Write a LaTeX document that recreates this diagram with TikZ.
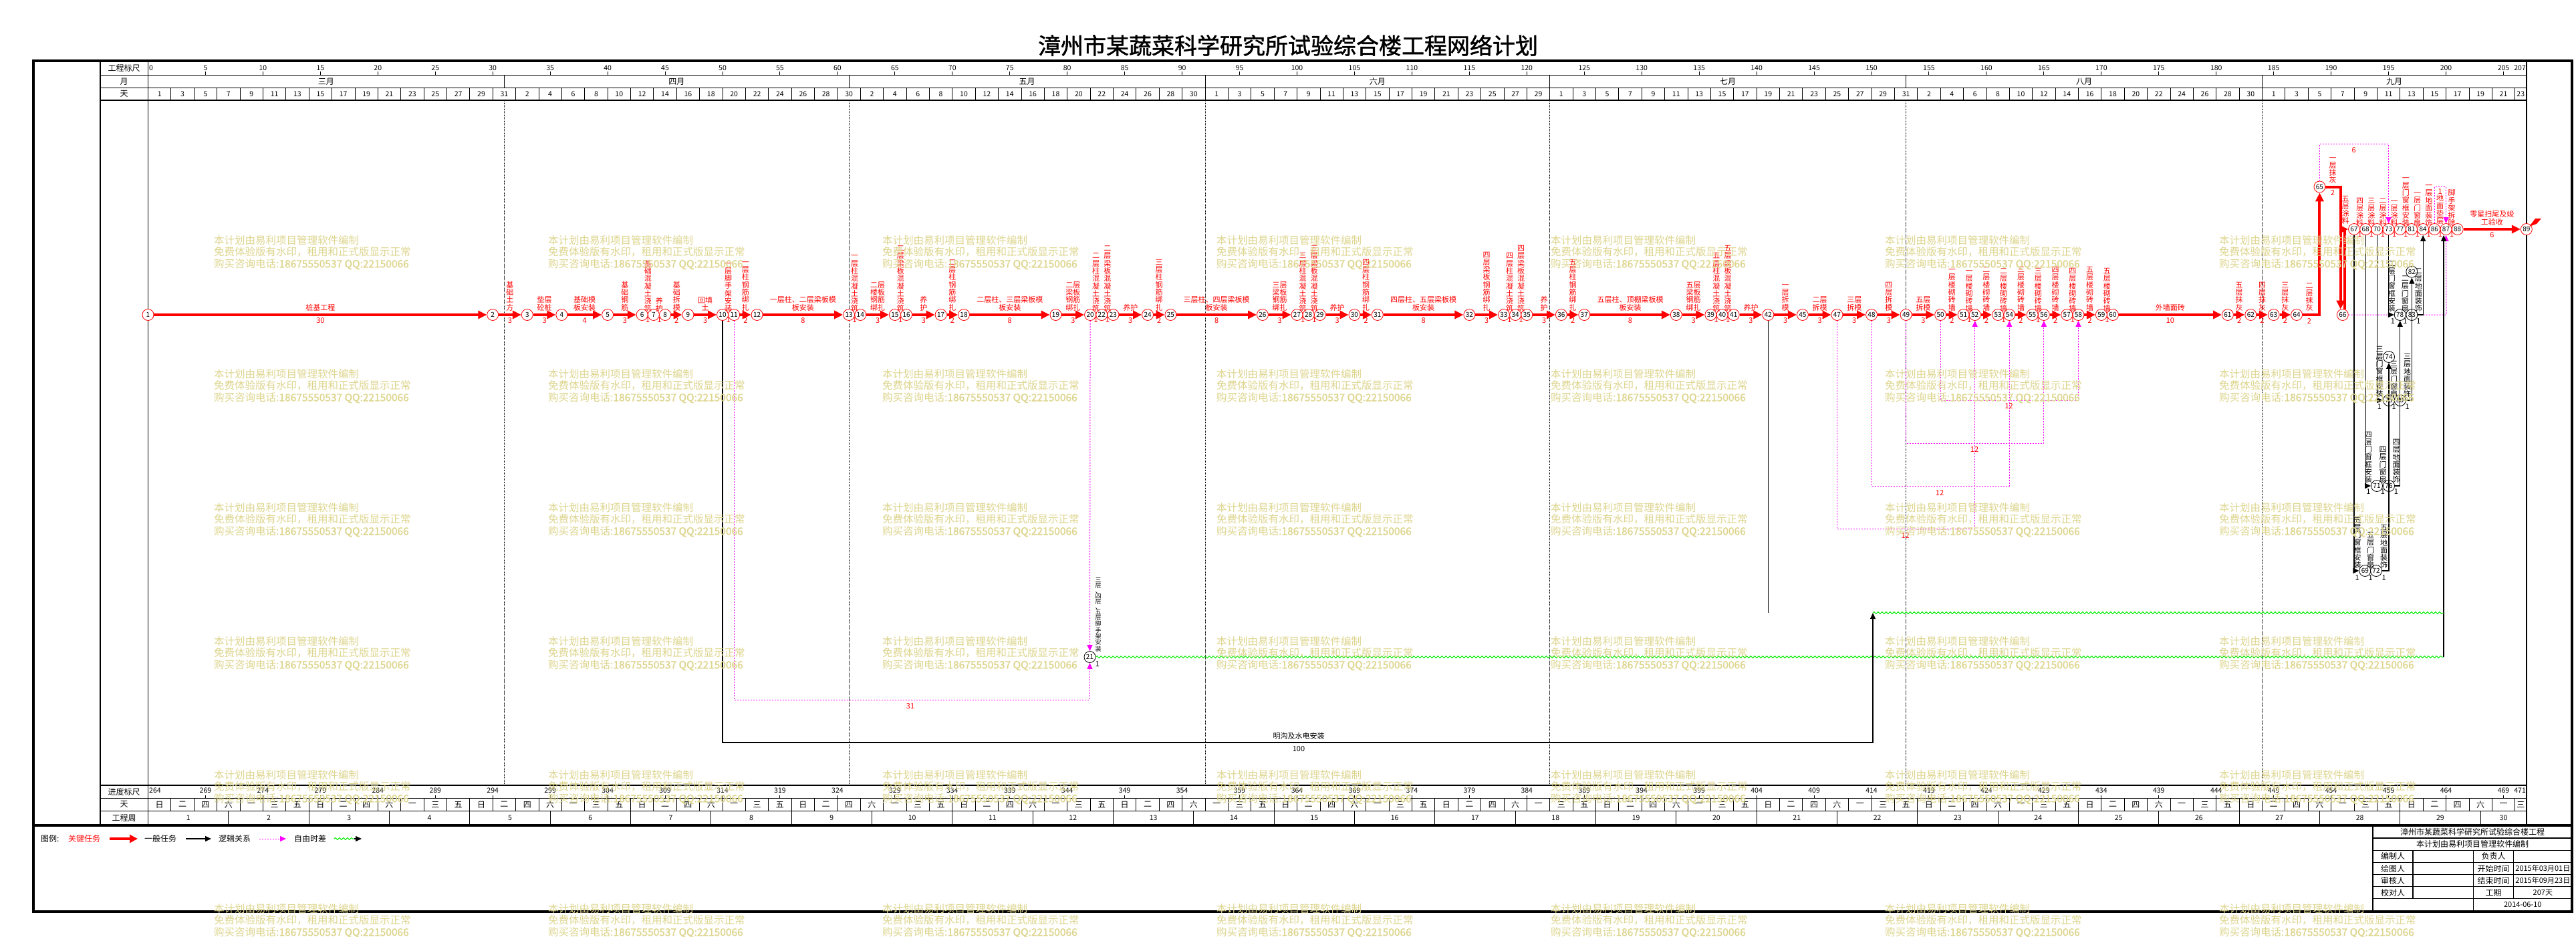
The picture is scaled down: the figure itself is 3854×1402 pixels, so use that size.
\documentclass[tikz,border=0pt]{standalone}
\usepackage{fontspec}
\setmainfont{Noto Sans CJK SC}
\newfontfamily\boldf[FakeBold=1.5]{Noto Sans CJK SC}
\usetikzlibrary{arrows.meta,decorations.pathmorphing,calc}
\pgfdeclarelayer{bg}
\pgfsetlayers{bg,main}
\definecolor{wm}{RGB}{221,213,141}
\definecolor{mag}{RGB}{255,0,255}
\definecolor{grn}{RGB}{0,235,0}
\newcommand\X[1]{(221.5+(#1)*17.19)}
\newcommand\vtEnd{VTEND}
\def\vtgob#1{}
\def\vtone#1{#1}
\newcommand\vt[1]{\vtA#1\vtEnd}
\def\vtA#1{\ifx#1\vtEnd\expandafter\vtgob\else\expandafter\vtone\fi{#1\vtB}}
\def\vtB#1{\ifx#1\vtEnd\expandafter\vtgob\else\expandafter\vtone\fi{\\#1\vtB}}
\tikzset{
  hdr/.style={font=\fontsize{12}{12}\selectfont,inner sep=0pt},
  num/.style={font=\fontsize{10.5}{10.5}\selectfont,inner sep=0pt},
  cn/.style={circle,draw=red,fill=white,line width=0.8pt,minimum size=17pt,inner sep=0pt,font=\fontsize{10}{10}\selectfont},
  gn/.style={circle,draw=black,fill=white,line width=0.8pt,minimum size=17pt,inner sep=0pt,font=\fontsize{10}{10}\selectfont},
  crit/.style={draw=red,line width=4pt,-{Triangle[length=13pt,width=12pt]}},
  gen/.style={draw=black,line width=1.2pt,-{Triangle[length=9pt,width=8pt]}},
  genl/.style={draw=black,line width=1.2pt},
  logic/.style={draw=mag,line width=1pt,dash pattern=on 2pt off 2pt,-{Triangle[length=9pt,width=8pt]}},
  ff/.style={draw=grn,line width=1pt,decorate,decoration={snake,amplitude=1.5pt,segment length=6pt}},
  lr/.style={text=red,inner sep=0pt,align=center,font=\fontsize{11}{11.3}\selectfont},
  lb/.style={text=black,inner sep=0pt,align=center,font=\fontsize{11}{11.3}\selectfont},
  wmk/.style={text=wm,inner sep=0pt,align=left,font=\fontsize{15.5}{17.5}\selectfont}
}
\newcommand\vtask[4]{\draw[crit] (n#1) -- (n#2) node[midway,above=4pt,lr]{\vt{#3}} node[midway,below=3pt,lr]{#4};}
\newcommand\vtaskn[4]{\path (n#1) -- (n#2) node[midway,above=4pt,lr]{\vt{#3}} node[midway,below=3pt,lr]{#4};}
\newcommand\htask[4]{\draw[crit] (n#1) -- (n#2) node[midway,above=4pt,lr]{#3} node[midway,below=3pt,lr]{#4};}
\newcommand\vlab[3]{\node[lb,anchor=south] at (#1,#2) {\vt{#3}};}
\begin{document}
\begin{tikzpicture}[x=1pt,y=-1pt]
\useasboundingbox (0,0) rectangle (3854,1402);
\begin{pgfonlayer}{bg}
\fill[white] (0,0) rectangle (3854,1402);
% frame
\draw[line width=4pt] (50,91) rectangle (3848,1364);
\draw[line width=4pt] (50,1235) -- (3848,1235);
\foreach \xx in {150,221.5,3780} \draw[line width=1.2pt] (\xx,91) -- (\xx,1235);
\foreach \yy in {112.3,131.3,150,1175,1194.3,1213.3} \draw[line width=1.2pt] (150,\yy) -- (3780,\yy);
% month lines
\foreach \m in {31,61,92,122,153,184} {
  \draw[line width=1pt] ({\X{\m}},112.3) -- ({\X{\m}},131.3);
  \draw[densely dotted,line width=0.8pt] ({\X{\m}},150) -- ({\X{\m}},1175);
}
\foreach \a/\b/\t in {0/31/三月,31/61/四月,61/92/五月,92/122/六月,122/153/七月,153/184/八月,184/207/九月}
  \node[hdr] at ({\X{(\a+\b)/2}},121.8) {\t};
% ruler top and bottom
\node[num,anchor=west] at (223,101.7) {0};
\node[num,anchor=west] at (223,1183) {264};
\foreach \k in {5,10,...,205} {
  \pgfmathtruncatemacro\v{264+\k}
  \draw[line width=1pt] ({\X{\k}},107.5) -- ({\X{\k}},112.3);
  \node[num] at ({\X{\k}},101.7) {\k};
  \draw[line width=1pt] ({\X{\k}},1189.5) -- ({\X{\k}},1194.3);
  \node[num] at ({\X{\k}},1183) {\v};
}
\node[num,anchor=east] at (3779,101.7) {207};
\node[num,anchor=east] at (3779,1183) {471};
% day cells
\foreach \i in {2,4,...,206} {
  \draw[line width=0.8pt] ({\X{\i}},131.3) -- ({\X{\i}},150);
  \draw[line width=0.8pt] ({\X{\i}},1194.3) -- ({\X{\i}},1213.3);
}
\foreach \i in {0,2,...,206} {
  \pgfmathtruncatemacro\dd{\i<31 ? \i+1 : (\i<61 ? \i-30 : (\i<92 ? \i-60 : (\i<122 ? \i-91 : (\i<153 ? \i-121 : (\i<184 ? \i-152 : \i-183)))))}
  \pgfmathsetmacro\cc{\i<206 ? \i+1 : 206.5}
  \pgfmathtruncatemacro\ww{mod(\i,7)}
  \node[num] at ({\X{\cc}},140.6) {\dd};
  \node[hdr] at ({\X{\cc}},1203.8) {\ifcase\ww 日\or 一\or 二\or 三\or 四\or 五\or 六\fi};
}
% weeks
\foreach \k in {7,14,...,203} \draw[line width=0.8pt] ({\X{\k}},1213.3) -- ({\X{\k}},1235);
\foreach \k in {1,...,30} {
  \pgfmathsetmacro\c{(7*(\k-1)+min(7*\k,207))/2}
  \node[num] at ({\X{\c}},1224) {\k};
}
% first column labels
\node[hdr] at (185.7,101.7) {工程标尺};
\node[hdr] at (185.7,121.8) {月};
\node[hdr] at (185.7,140.6) {天};
\node[hdr] at (185.7,1184.7) {进度标尺};
\node[hdr] at (185.7,1203.8) {天};
\node[hdr] at (185.7,1224) {工程周};
\end{pgfonlayer}

% title
\node[font=\boldf\fontsize{34}{34}\selectfont,inner sep=0pt] (title) at (1927,68) {漳州市某蔬菜科学研究所试验综合楼工程网络计划};

% ---------- nodes ----------
\foreach \n/\d in {1/0,2/30,3/33,4/36,5/40,6/43,7/44,8/45,9/47,10/50,11/51,12/53,13/61,14/62,15/65,16/66,17/69,18/71,19/79,20/82,22/83,23/84,24/87,25/89,26/97,27/100,28/101,29/102,30/105,31/107,32/115,33/118,34/119,35/120,36/123,37/125,38/133,39/136,40/137,41/138,42/141,45/144,47/147,48/150,49/153,50/156,51/158,52/159,53/161,54/162,55/164,56/165,57/167,58/168,59/170,60/171,61/181,62/183,63/185,64/187,66/191}
  \node[cn] (n\n) at ({\X{\d}},471) {\n};
\node[cn] (n65) at ({\X{189}},279.5) {65};
\foreach \n/\d in {67/192,68/193,70/194,73/195,77/196,81/197,84/198,86/199,87/200,88/201,89/207}
  \node[cn] (n\n) at ({\X{\d}},343) {\n};
% general nodes
\node[gn] (n21) at (1630.5,983) {21};
\node[gn] (n69) at (3538.3,854) {69};
\node[gn] (n72) at (3555,854) {72};
\node[gn] (n74) at (3574,534) {74};
\node[gn] (n71) at (3556,727) {71};
\node[gn] (n76) at (3574,727) {76};
\node[gn] (n75) at (3574,599) {75};
\node[gn] (n80) at (3590.7,599) {80};
\node[gn] (n82) at (3608.3,406.7) {82};
\node[gn] (n78) at (3590.7,471) {78};
\node[gn] (n83) at (3608.3,471) {83};

% helper coordinates
\coordinate (y215) at (0,215.6);
\coordinate (y279) at (0,279.5);
\coordinate (y599) at (0,599);
\coordinate (y663) at (0,663);
\coordinate (y727) at (0,727);
\coordinate (y791) at (0,791);
\coordinate (y917) at (0,917);
\coordinate (y1047) at (0,1047);
\coordinate (y1111) at (0,1111);
\coordinate (t100) at (2802,917);
\coordinate (g21e) at (3656,983);

% ---------- critical tasks ----------
\htask{1}{2}{桩基工程}{30}
\vtask{2}{3}{基础土方}{3}
\htask{3}{4}{垫层\\砼桩}{3}
\htask{4}{5}{基础模\\板安装}{4}
\vtask{5}{6}{基础钢筋}{3}
\vtaskn{6}{7}{基础混凝土浇筑}{1}
\vtaskn{7}{8}{养护}{1}
\vtask{8}{9}{基础拆模}{2}
\htask{9}{10}{回填\\土}{3}
\vtaskn{10}{11}{一层脚手架安装}{1}
\vtask{11}{12}{一层柱钢筋绑扎}{2}
\htask{12}{13}{一层柱、二层梁板模\\板安装}{8}
\vtaskn{13}{14}{一层柱混凝土浇筑}{1}
\htask{14}{15}{二层\\楼板\\钢筋\\绑扎}{3}
\vtaskn{15}{16}{二层梁板混凝土浇筑}{1}
\vtask{16}{17}{养护}{3}
\vtask{17}{18}{二层柱钢筋绑扎}{2}
\htask{18}{19}{二层柱、三层梁板模\\板安装}{8}
\htask{19}{20}{二层\\梁板\\钢筋\\绑扎}{3}
\vtaskn{20}{22}{二层柱混凝土浇筑}{1}
\vtaskn{22}{23}{二层梁板混凝土浇筑}{1}
\htask{23}{24}{养护}{3}
\vtask{24}{25}{三层柱钢筋绑扎}{2}
\htask{25}{26}{三层柱、四层梁板模\\板安装}{8}
\htask{26}{27}{三层\\梁板\\钢筋\\绑扎}{3}
\vtaskn{27}{28}{三层柱混凝土浇筑}{1}
\vtaskn{28}{29}{三层梁板混凝土浇筑}{1}
\htask{29}{30}{养护}{3}
\vtask{30}{31}{四层柱钢筋绑扎}{2}
\htask{31}{32}{四层柱、五层梁板模\\板安装}{8}
\vtask{32}{33}{四层梁板钢筋绑扎}{3}
\vtaskn{33}{34}{四层柱混凝土浇筑}{1}
\vtaskn{34}{35}{四层梁板混凝土浇筑}{1}
\vtask{35}{36}{养护}{3}
\vtask{36}{37}{五层柱钢筋绑扎}{2}
\htask{37}{38}{五层柱、顶棚梁板模\\板安装}{8}
\htask{38}{39}{五层\\梁板\\钢筋\\绑扎}{3}
\vtaskn{39}{40}{五层柱混凝土浇筑}{1}
\vtaskn{40}{41}{五层梁板混凝土浇筑}{1}
\htask{41}{42}{养护}{3}
\vtask{42}{45}{一层拆模}{3}
\htask{45}{47}{二层\\拆模}{3}
\htask{47}{48}{三层\\拆模}{3}
\vtask{48}{49}{四层拆模}{3}
\htask{49}{50}{五层\\拆模}{3}
\vtask{50}{51}{一层楼砌砖墙}{2}
\vtaskn{51}{52}{一层楼砌砖墙}{1}
\vtask{52}{53}{二层楼砌砖墙}{2}
\vtaskn{53}{54}{二层楼砌砖墙}{1}
\vtask{54}{55}{三层楼砌砖墙}{2}
\vtaskn{55}{56}{三层楼砌砖墙}{1}
\vtask{56}{57}{四层楼砌砖墙}{2}
\vtaskn{57}{58}{四层楼砌砖墙}{1}
\vtask{58}{59}{五层楼砌砖墙}{2}
\vtaskn{59}{60}{五层楼砌砖墙}{1}
\htask{60}{61}{外墙面砖}{10}
\vtask{61}{62}{五层抹灰}{2}
\vtask{62}{63}{四层抹灰}{2}
\vtask{63}{64}{三层抹灰}{2}
\draw[crit] (n64) -| (n65);
\node[lr,anchor=south] at (3455,466) {\vt{二层抹灰}};
\node[lr] at (3455,481) {2};
\draw[crit] (n65) -| (n66.110);
\node[lr,anchor=south] at (3490,275) {\vt{一层抹灰}};
\node[lr] at (3490,289) {2};
\draw[crit] (n66.70) |- (n67);
\node[lr,anchor=south] at (3509,336) {\vt{五层涂料}};
\node[lr] at (3508,354) {1};
\vtaskn{67}{68}{四层涂料}{1}
\vtaskn{68}{70}{三层涂料}{1}
\vtaskn{70}{73}{二层涂料}{1}
\vtaskn{73}{77}{一层涂料}{1}
\vtaskn{77}{81}{一层门窗框安装}{1}
\vtaskn{81}{84}{一层门窗扇}{1}
\vtaskn{84}{86}{一层地面装饰}{1}
\path (n86) -- (n87) node[midway,below=3pt,lr]{1};
\node[lr,anchor=south] at (3650.7,336) {\vt{地面垫层}};
\node[lr] at (3650.7,287) {1};
\vtaskn{87}{88}{脚手架拆除}{1}
\htask{88}{89}{零星扫尾及竣\\工验收}{6}
\fill[red] (3784,339) -- (3793,327) -- (3802,327) -- (3795,335) -- cycle;

% ---------- logic (dotted) ----------
\begin{pgfonlayer}{bg}
\draw[logic] (n66) -- (3660,471) -- (n87.south);
\end{pgfonlayer}
\draw[logic] (n65.north) -- (n65 |- y215) -| (n73.north);
\node[lr] at (3521.7,224.5) {6};
\draw[logic] (n86.north) -- (n86 |- y279) -| (n87.north);
\draw[logic] (n50.south) -- (n50 |- y599) -- (n58 |- y599) -- (n58.south);
\draw[logic] (n49.south) -- (n49 |- y663) -- (n56 |- y663) -- (n56.south);
\draw[logic] (n48.south) -- (n48 |- y727) -- (n54 |- y727) -- (n54.south);
\draw[logic] (n47.south) -- (n47 |- y791) -- (n52 |- y791) -- (n52.south);
\node[lr] at (3005.7,608) {12};
\node[lr] at (2954,673) {12};
\node[lr] at (2902,737) {12};
\node[lr] at (2850.7,801) {12};
\draw[logic] (n20.south) -- (n21.north);
\draw[logic] (n11.south) -- (n11 |- y1047) -| (n21.south);
\node[lr] at (1362,1057) {31};

% ---------- general tasks ----------
\node[lb,anchor=south,font=\fontsize{9}{8}\selectfont] at (1643,975) {\vt{三层、四层、五层脚手架安装}};
\node[lb] at (1642,994) {1};
\draw[ff] (n21) -- (g21e);
\draw[gen] (g21e) -- (g21e |- n87.south);
\draw[gen] (n10.south) -- (n10 |- y1111) -| (t100);
\node[lb,anchor=south] at (1943,1107) {明沟及水电安装};
\node[lb] at (1943,1121) {100};
\draw[ff] (t100) -- (t100 -| g21e);
\draw[genl] (n42.south) -- (n42 |- y917);

% door/window/floor cluster
\draw[gen] (n67) |- (n69);
\draw[gen] (n72) -| (n74);
\draw[gen] (n68) |- (n71);
\draw[gen] (n76) -| (n78);
\draw[gen] (n70) |- (n75);
\draw[gen] (n80) -| (n82);
\draw[gen] (n73) |- (n78);
\draw[gen] (n83) -| (n84);
\vlab{3527}{851}{五层门窗框安装}
\vlab{3546.7}{851}{五层门窗扇}
\vlab{3566.7}{851}{五层地面装饰}
\vlab{3543.3}{723}{四层门窗框安装}
\vlab{3565}{723}{四层门窗扇}
\vlab{3585}{723}{四层地面装饰}
\vlab{3560}{595}{三层门窗框安装}
\vlab{3581.7}{595}{三层门窗扇}
\vlab{3601.7}{595}{三层地面装饰}
\vlab{3578.3}{467}{二层门窗框安装}
\vlab{3598.3}{467}{二层门窗扇}
\vlab{3618.3}{467}{二层地面装饰}
\foreach \xx/\yy in {3526.7/865,3546.7/865,3566.7/865,3543.3/736,3565/736,3585/736,3560/608.5,3581.7/608.5,3601.7/608.5,3580/481,3598.3/481,3618.3/481}
  \node[lb] at (\xx,\yy) {1};

% ---------- legend ----------
\node[hdr,anchor=west] (lg0) at (61,1255) {图例:};
\node[hdr,anchor=west,text=red] (lg1) at (102,1255) {关键任务};
\coordinate (la1) at (164,1255); \coordinate (lb1) at (206,1255);
\draw[crit,-{Triangle[length=12pt,width=12pt]}] (la1) -- (lb1);
\node[hdr,anchor=west] (lg2) at (216,1255) {一般任务};
\coordinate (la2) at (278,1255); \coordinate (lb2) at (316,1255);
\draw[gen] (la2) -- (lb2);
\node[hdr,anchor=west] (lg3) at (327,1255) {逻辑关系};
\coordinate (la3) at (388,1255); \coordinate (lb3) at (428,1255);
\draw[logic] (la3) -- (lb3);
\node[hdr,anchor=west] (lg4) at (440,1255) {自由时差};
\coordinate (la4) at (500,1255); \coordinate (lm4) at (530,1255); \coordinate (lb4) at (541,1255);
\draw[ff] (la4) -- (lm4);
\draw[gen] (lm4) -- (lb4);

% ---------- title block ----------
\draw[line width=2.5pt] (3550,1235) -- (3550,1364);
\foreach \yy in {1254,1272.3,1290.3,1308.7,1326.7,1344.7} \draw[line width=1.2pt] (3550,\yy) -- (3848,\yy);
\draw[line width=1.2pt] (3610,1272.3) -- (3610,1344.7);
\draw[line width=1.2pt] (3700.7,1272.3) -- (3700.7,1364);
\draw[line width=1.2pt] (3760.7,1272.3) -- (3760.7,1344.7);
\node[hdr] at (3699,1244.6) {漳州市某蔬菜科学研究所试验综合楼工程};
\node[hdr] at (3699,1263.2) {本计划由易利项目管理软件编制};
\foreach \t/\yy in {编制人/1281.3,绘图人/1299.5,审核人/1317.7,校对人/1335.7}
  \node[hdr,anchor=west] at (3562,\yy) {\t};
\foreach \t/\yy in {负责人/1281.3,开始时间/1299.5,结束时间/1317.7,工期/1335.7}
  \node[hdr] at (3730.7,\yy) {\t};
\node[num,font=\fontsize{11}{11}\selectfont] at (3804.3,1299.5) {2015年03月01日};
\node[num,font=\fontsize{11}{11}\selectfont] at (3804.3,1317.7) {2015年09月23日};
\node[num,font=\fontsize{11}{11}\selectfont] at (3804.3,1335.7) {207天};
\node[num,font=\fontsize{11}{11}\selectfont] at (3774.3,1354) {2014-06-10};

% ---------- watermark ----------
\foreach \wx in {320,820,1320,1820,2320,2820,3320} {
  \foreach \wy in {360,560,760,960,1160,1360} {
    \node[wmk,anchor=north west] at (\wx,\wy-8) {本计划由易利项目管理软件编制\\免费体验版有水印，租用和正式版显示正常\\购买咨询电话:{\boldf 18675550537 QQ:22150066}};
  }
}
\end{tikzpicture}
\end{document}
